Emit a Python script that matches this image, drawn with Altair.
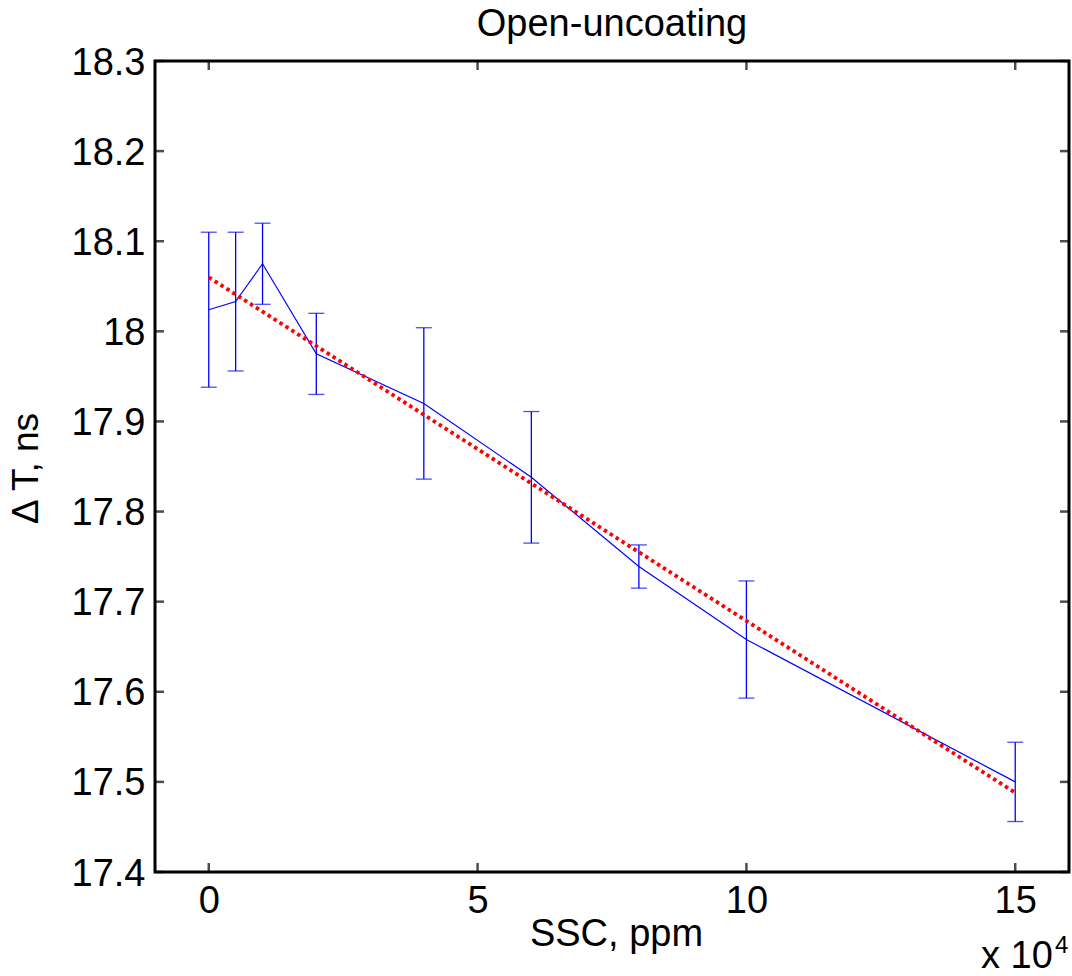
import altair as alt
import pandas as pd

# Data (SSC in units of 1e4 ppm)
ssc = [0, 0.5, 1, 2, 4, 6, 8, 10, 15]
dt_mean = [18.024, 18.033, 18.075, 17.975, 17.920, 17.838, 17.739, 17.658, 17.500]
dt_err = [0.086, 0.077, 0.045, 0.045, 0.084, 0.073, 0.024, 0.065, 0.044]

fit_x = [0, 15]
fit_y = [18.060, 17.488]

x_ticks = [0, 5, 10, 15]
y_ticks = [17.4, 17.5, 17.6, 17.7, 17.8, 17.9, 18.0, 18.1, 18.2, 18.3]

FONT = "Liberation Sans"
W, H = 914, 811

df = pd.DataFrame({
    "ssc": ssc,
    "mean": dt_mean,
    "lo": [m - e for m, e in zip(dt_mean, dt_err)],
    "hi": [m + e for m, e in zip(dt_mean, dt_err)],
})
fit_df = pd.DataFrame({"ssc": fit_x, "dt": fit_y})
xt_df = pd.DataFrame({"v": x_ticks})
yt_df = pd.DataFrame({"v": y_ticks})

xscale = alt.Scale(domain=[-1, 16], nice=False, zero=False)
yscale = alt.Scale(domain=[17.4, 18.3], nice=False, zero=False)

x_axis = alt.Axis(
    values=x_ticks, format="~g", title="SSC, ppm", grid=False, domain=False,
    ticks=False, tickSize=0, labelFont=FONT, labelFontSize=38, labelColor="black",
    labelPadding=10, titleFont=FONT, titleFontSize=38, titleFontWeight="normal",
    titleColor="black", titleX=461, titleY=73, titleBaseline="alphabetic",
)
y_axis = alt.Axis(
    values=y_ticks, format=".1~f", title="\u0394 T, ns", grid=False, domain=False,
    ticks=False, tickSize=0, labelFont=FONT, labelFontSize=38, labelColor="black",
    labelPadding=10, labelOffset=2, titleFont=FONT, titleFontSize=37, titleFontWeight="normal",
    titleColor="black", titleX=-118, titleY=407, titleBaseline="alphabetic",
)

line = alt.Chart(df).mark_line(color="#0000ff", strokeWidth=1.2).encode(
    x=alt.X("ssc:Q", scale=xscale, axis=x_axis),
    y=alt.Y("mean:Q", scale=yscale, axis=y_axis),
)
bars = alt.Chart(df).mark_rule(color="#0000ff", strokeWidth=1.3).encode(
    x=alt.X("ssc:Q", scale=xscale),
    y=alt.Y("lo:Q", scale=yscale),
    y2="hi:Q",
)
cap_lo = alt.Chart(df).mark_tick(color="#0000ff", orient="horizontal", size=16, thickness=1.3).encode(
    x=alt.X("ssc:Q", scale=xscale),
    y=alt.Y("lo:Q", scale=yscale),
)
cap_hi = alt.Chart(df).mark_tick(color="#0000ff", orient="horizontal", size=16, thickness=1.3).encode(
    x=alt.X("ssc:Q", scale=xscale),
    y=alt.Y("hi:Q", scale=yscale),
)
fit = alt.Chart(fit_df).mark_line(color="#ff0000", strokeWidth=3.8, strokeDash=[3.5, 3.5]).encode(
    x=alt.X("ssc:Q", scale=xscale),
    y=alt.Y("dt:Q", scale=yscale),
)

# inward ticks on all four sides
TL = 9
tick_kw = dict(color="black", thickness=2.5, size=TL)
yt_left = alt.Chart(yt_df).mark_tick(orient="horizontal", xOffset=TL / 2, **tick_kw).encode(
    y=alt.Y("v:Q", scale=yscale), x=alt.value(0))
yt_right = alt.Chart(yt_df).mark_tick(orient="horizontal", xOffset=-TL / 2, **tick_kw).encode(
    y=alt.Y("v:Q", scale=yscale), x=alt.value(W))
xt_bottom = alt.Chart(xt_df).mark_tick(orient="vertical", yOffset=-TL / 2, **tick_kw).encode(
    x=alt.X("v:Q", scale=xscale), y=alt.value(H))
xt_top = alt.Chart(xt_df).mark_tick(orient="vertical", yOffset=TL / 2, **tick_kw).encode(
    x=alt.X("v:Q", scale=xscale), y=alt.value(0))

mult = alt.Chart(pd.DataFrame({"t": ["x 10"]})).mark_text(
    font=FONT, fontSize=38, align="left", baseline="alphabetic", color="black"
).encode(text="t:N", x=alt.value(826), y=alt.value(907))
expo = alt.Chart(pd.DataFrame({"t": ["4"]})).mark_text(
    font=FONT, fontSize=24, align="left", baseline="alphabetic", color="black"
).encode(text="t:N", x=alt.value(900), y=alt.value(892))

chart = alt.layer(
    line, bars, cap_lo, cap_hi, fit, yt_left, yt_right, xt_bottom, xt_top, mult, expo
).properties(
    width=W, height=H,
    background="white",
    title=alt.TitleParams("Open-uncoating", font=FONT, fontSize=38, fontWeight="normal",
                          color="black", anchor="middle", frame="group", offset=0),
    autosize=alt.AutoSizeParams(type="none"),
    padding={"left": 155, "top": 61, "right": 3, "bottom": 104},
).configure_view(
    stroke="black", strokeWidth=3
)

chart.save("out.html", embed_options={"renderer": "svg", "actions": False})
